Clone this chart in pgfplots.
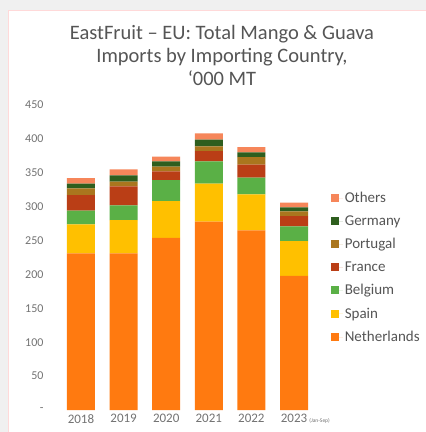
\documentclass[border=0pt]{standalone}
\usepackage{pgfplots}
\pgfplotsset{compat=1.18}
\usepackage{fontspec}
\setmainfont{Carlito}
\definecolor{cNL}{RGB}{255,122,16}
\definecolor{cES}{RGB}{255,192,0}
\definecolor{cBE}{RGB}{90,176,70}
\definecolor{cFR}{RGB}{186,62,22}
\definecolor{cPT}{RGB}{170,118,30}
\definecolor{cDE}{RGB}{46,94,30}
\definecolor{cOT}{RGB}{246,134,90}
\definecolor{txt}{RGB}{85,85,85}
\definecolor{tick}{RGB}{115,115,115}
\begin{document}
\begin{tikzpicture}[x=1pt,y=1pt]
\path[use as bounding box] (0,0) rectangle (426,432);
\fill[black!6] (0,0) rectangle (426,432);
\fill[white] (8,0) rectangle (426,422);
\draw[red!15,line width=0.8pt] (8,-2) -- (8,422) -- (428,422);
\node[text=txt,font=\fontsize{20.5}{23}\selectfont,align=center] at (222,377) {EastFruit -- EU: Total Mango \& Guava\\Imports by Importing Country,\\`000 MT};
\begin{axis}[
  at={(55pt,22pt)}, anchor=south west,
  width=265pt, height=305pt, scale only axis,
  ybar stacked, bar width=28pt,
  xmin=-0.61, xmax=5.61, ymin=0, ymax=450,
  axis line style={draw=none},
  tick style={draw=none},
  xtick={0,1,2,3,4,5},
  xticklabels={2018,2019,2020,2021,2022,{2023\rlap{\,\fontsize{5.5}{6}\selectfont(Jan-Sep)}}},
  ytick={0,50,100,150,200,250,300,350,400,450},
  yticklabels={-,50,100,150,200,250,300,350,400,450},
  ticklabel style={text=tick},
  xticklabel style={yshift=-1pt,font=\fontsize{13}{14}\selectfont},
  yticklabel style={xshift=-8pt,font=\fontsize{12}{13}\selectfont},
  clip=false,
  legend style={at={(1.04,0.467)}, anchor=west, draw=none, fill=none,
    font=\fontsize{15}{16}\selectfont, text=txt, row sep=7.5pt,
    legend cell align=left, inner sep=0pt},
  legend image code/.code={\fill[#1] (0pt,-4pt) rectangle (8pt,4pt);\path (0pt,0pt) -- (12pt,0pt);},
  reverse legend,
]
\addplot[fill=cNL,draw=none] coordinates {(0,231) (1,231) (2,254) (3,278) (4,265) (5,198)};
\addplot[fill=cES,draw=none] coordinates {(0,43) (1,49) (2,54) (3,56) (4,53) (5,51)};
\addplot[fill=cBE,draw=none] coordinates {(0,20) (1,22) (2,31) (3,33) (4,25) (5,22)};
\addplot[fill=cFR,draw=none] coordinates {(0,23) (1,28) (2,13) (3,15) (4,19) (5,15)};
\addplot[fill=cPT,draw=none] coordinates {(0,10) (1,7) (2,7) (3,7) (4,11) (5,7)};
\addplot[fill=cDE,draw=none] coordinates {(0,7) (1,9) (2,8) (3,10) (4,7) (5,6)};
\addplot[fill=cOT,draw=none] coordinates {(0,8) (1,9) (2,7) (3,9) (4,8) (5,7)};
\legend{Netherlands,Spain,Belgium,France,Portugal,Germany,Others}
\end{axis}
\end{tikzpicture}
\end{document}
